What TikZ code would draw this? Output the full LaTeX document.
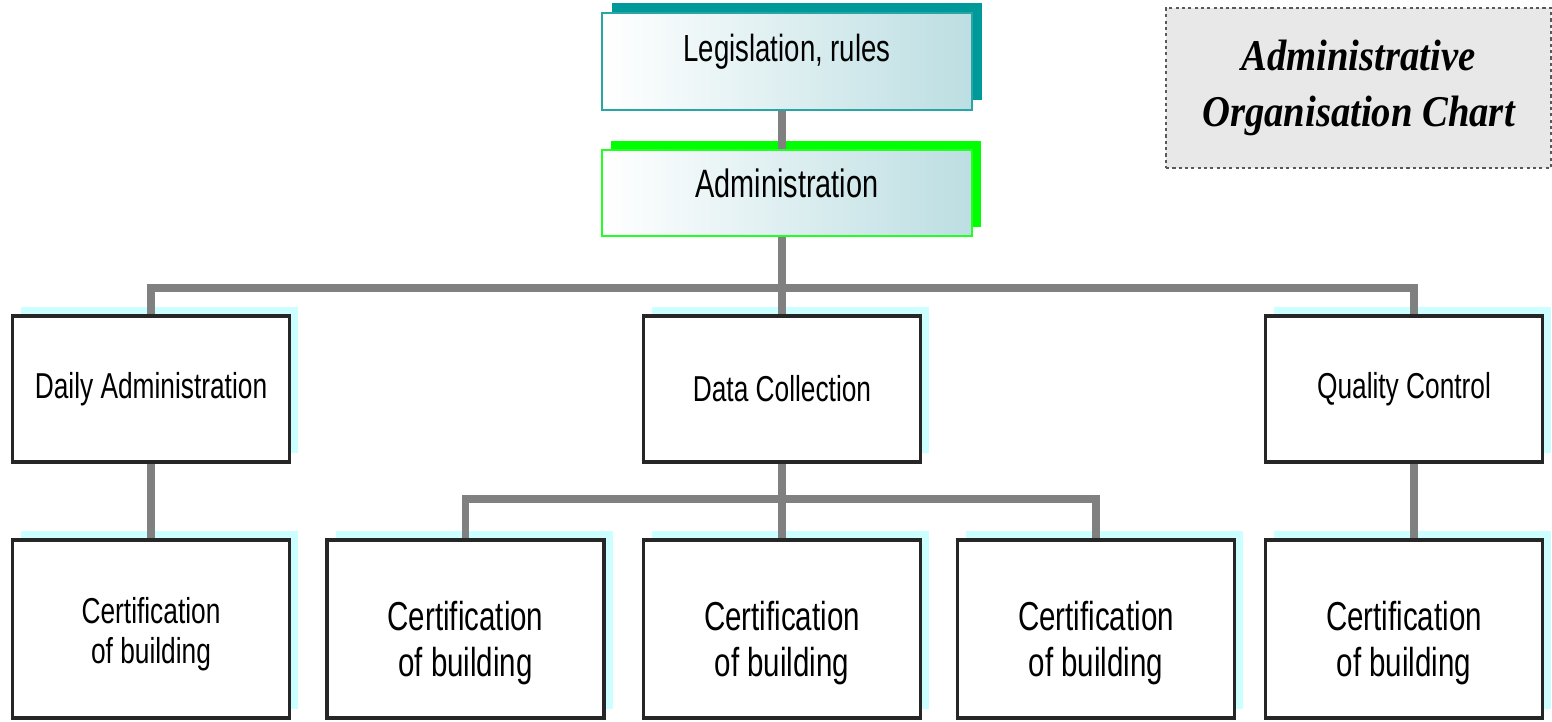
\documentclass[tikz,border=0pt]{standalone}
\usepackage{fontspec}
\setmainfont{Liberation Sans}[FakeStretch=0.73]
\newfontfamily\titlefont{Liberation Serif}[FakeStretch=0.88]
\usepackage{tikz}
\usetikzlibrary{positioning,shadows}

\definecolor{linkgray}{RGB}{128,128,128}
\definecolor{legteal}{RGB}{40,165,165}
\definecolor{legshadow}{RGB}{0,153,153}
\definecolor{admgreen}{RGB}{34,255,34}
\definecolor{admshadow}{RGB}{0,255,0}
\definecolor{boxcyan}{RGB}{204,255,255}
\definecolor{paleteal}{RGB}{188,222,226}
\definecolor{titlegray}{RGB}{232,232,232}

\newcommand{\lowered}[1]{\rule{0pt}{#1}}

\begin{document}
\begin{tikzpicture}[node distance=2cm,on grid,
    topbox/.style={rectangle, minimum width=7.4cm, left color=white, right color=paleteal, line width=1.6pt},
    unit/.style={rectangle, draw=black!85, line width=1.8pt, fill=white, minimum width=5.54cm,
        drop shadow={shadow xshift=0.17cm, shadow yshift=0.18cm, fill=boxcyan, opacity=1}},
    cert/.style={unit, minimum height=3.56cm, align=center, font=\fontsize{23}{26}\selectfont},
    link/.style={draw=linkgray, line width=4.5pt}]
    \useasboundingbox (0,0) rectangle (31.04,-14.42);

    \node[topbox, draw=legteal, minimum height=1.94cm, text height=0.5cm, text depth=0.5cm,
        font=\fontsize{21.5}{24}\selectfont,
        drop shadow={shadow xshift=0.2cm, shadow yshift=0.2cm, fill=legshadow, opacity=1}]
        (leg) at (15.74,-1.23) {Legislation, rules};
    \node[topbox, draw=admgreen, minimum height=1.72cm, text height=0.5cm, text depth=0.32cm,
        font=\fontsize{22.5}{26}\selectfont,
        drop shadow={shadow xshift=0.18cm, shadow yshift=0.18cm, fill=admshadow, opacity=1}]
        (adm) [below=2.63cm of leg] {Administration};

    % second level
    \node[unit, minimum height=2.92cm, font=\fontsize{20.5}{24}\selectfont] (data) [below left=3.92cm and 0.1cm of adm] {Data Collection};
    \node[unit, minimum height=2.92cm, font=\fontsize{20.5}{24}\selectfont] (daily) [left=12.62cm of data] {Daily Administration};
    \node[unit, minimum height=2.92cm, font=\fontsize{20.5}{24}\selectfont] (quality) [right=12.44cm of data] {Quality Control};

    % third level
    \node[cert, font=\fontsize{20.5}{23}\selectfont] (cert1) [below=4.8cm of daily] {\lowered{0.72cm}Certification\\of building};
    \node[cert] (cert3) [below=4.8cm of data] {\lowered{1.15cm}Certification\\of building};
    \node[cert] (cert2) [left=6.33cm of cert3] {\lowered{1.15cm}Certification\\of building};
    \node[cert] (cert4) [right=6.28cm of cert3] {\lowered{1.15cm}Certification\\of building};
    \node[cert] (cert5) [below=4.8cm of quality] {\lowered{1.15cm}Certification\\of building};

    \node[rectangle, fill=titlegray, draw=black!65, line width=1.4pt, dash pattern=on 1.8pt off 1.8pt,
        minimum width=7.7cm, minimum height=3.2cm, align=center,
        font=\titlefont\bfseries\itshape\fontsize{25}{32}\selectfont]
        (title) at (27.17,-1.76) {Administrative\\Organisation Chart};

    % connectors
    \draw[link] (leg.south -| data.north) -- (adm.north -| data.north);
    \draw[link] (adm.south -| data.north) -- ++(0,-1.02) coordinate (bus);
    \draw[link] (bus) -| (daily.north);
    \draw[link] (bus) -| ([xshift=0.2cm]quality.north);
    \draw[link] (bus) -- (data.north);
    \draw[link] (data.south) -- ++(0,-0.7) coordinate (subbus);
    \draw[link] (subbus) -| (cert2.north);
    \draw[link] (subbus) -| (cert4.north);
    \draw[link] (subbus) -- (cert3.north);
    \draw[link] (daily) -- (cert1);
    \draw[link] ([xshift=0.2cm]quality.south) -- ([xshift=0.2cm]cert5.north);
\end{tikzpicture}
\end{document}
